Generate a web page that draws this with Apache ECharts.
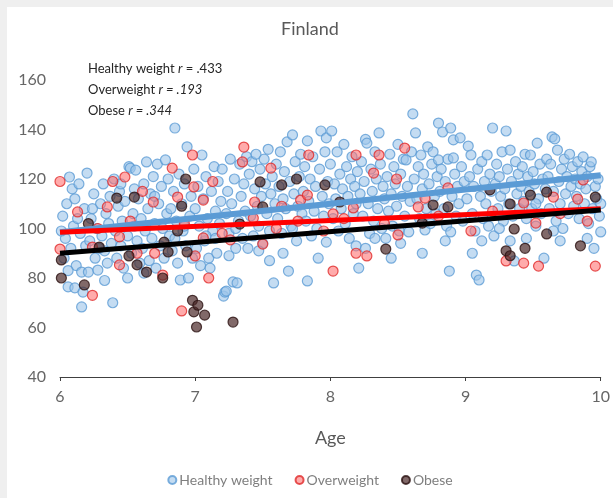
<!DOCTYPE html>
<html>
<head>
<meta charset="utf-8">
<script src="https://cdn.jsdelivr.net/npm/echarts@6/dist/echarts.min.js"></script>
<style>
  html, body { margin: 0; padding: 0; background: #efefef; }
  #chart { position: absolute; left: 7px; top: 7px; width: 606px; height: 491px; background: #fff; }
</style>
</head>
<body>
<div id="chart"></div>
<script>
// Age vs weight, Finland
var healthyWeight = [
  [6.02,105],[6.04,96],[6.06,76.4],[6.07,120.8],[6.09,116],[6.11,76],[6.03,88],[6.05,110],[6.08,92],[6.1,101],[6.12,85],[6.14,118],[6.15,98],[6.16,68.3],[6.16,82.4],[6.17,74.3],[6.18,108],[6.19,93],[6.13,104],[6.01,99],[6.11,112],[6.06,83],
  [6.2,122.4],[6.21,82.4],[6.22,95],[6.23,104],[6.25,114],[6.26,88],[6.27,100],[6.28,83.2],[6.3,110],[6.31,97],[6.32,118],[6.33,91],[6.34,106],[6.35,86],[6.36,102],[6.37,113],[6.38,94],[6.39,70],[6.24,108],[6.29,92],[6.33,79],
  [6.4,120],[6.41,99],[6.42,88],[6.43,109],[6.44,115],[6.45,93],[6.46,103],[6.47,84],[6.48,111],[6.5,97],[6.51,125],[6.52,124.4],[6.53,90],[6.54,106],[6.55,101],[6.56,123.6],[6.57,95],[6.58,112],[6.59,86],[6.45,118],[6.5,80],[6.55,116],
  [6.6,104],[6.61,92],[6.62,118],[6.63,99],[6.64,126.9],[6.65,108],[6.66,87],[6.67,114],[6.68,96],[6.69,121],[6.7,102],[6.71,84],[6.72,126],[6.73,110],[6.74,93],[6.75,117],[6.76,100],[6.77,88],[6.78,127.7],[6.79,106],[6.62,82],[6.7,113],
  [6.8,120],[6.81,97],[6.82,108],[6.83,91],[6.84,115],[6.85,140.6],[6.86,103],[6.87,86],[6.88,122],[6.89,79.2],[6.9,110],[6.91,99],[6.92,118],[6.93,93],[6.94,133],[6.95,80],[6.96,105],[6.97,113],[6.98,88],[6.99,124],[6.85,96],[6.92,101],
  [7.0,108],[7.01,92],[7.02,117],[7.03,101],[7.04,85],[7.05,129.7],[7.06,112],[7.07,95],[7.08,121],[7.09,104],[7.1,88],[7.11,84],[7.12,115],[7.13,99],[7.14,125],[7.15,107],[7.16,90],[7.17,119],[7.18,102],[7.19,111],[7.08,97],[7.15,96],
  [7.2,124],[7.21,72.7],[7.22,74.3],[7.23,74.7],[7.23,106],[7.24,115],[7.25,98],[7.26,128],[7.27,110],[7.28,78.4],[7.29,120],[7.3,92],[7.31,78],[7.32,103],[7.33,126],[7.34,113],[7.35,96],[7.36,118],[7.37,107],[7.38,129],[7.39,92],[7.3,100],[7.25,89],
  [7.4,122],[7.41,105],[7.42,127],[7.43,97],[7.44,116],[7.45,130],[7.46,109],[7.47,101],[7.48,124],[7.49,113],[7.5,94],[7.51,128],[7.52,118],[7.53,106],[7.54,132],[7.55,99],[7.56,114],[7.57,121],[7.58,78],[7.59,110],[7.47,91],[7.55,87],
  [7.6,126],[7.61,104],[7.62,117],[7.63,131],[7.64,98],[7.65,112],[7.66,123],[7.67,108],[7.68,135],[7.69,82.8],[7.7,119],[7.71,101],[7.72,137.8],[7.73,114],[7.74,127],[7.75,95],[7.76,109],[7.77,121],[7.78,130],[7.79,106],[7.65,90],[7.72,100],
  [7.8,115],[7.81,125],[7.82,103],[7.83,135.4],[7.83,78.8],[7.84,111],[7.85,120],[7.86,97],[7.87,129],[7.88,107],[7.89,117],[7.9,100],[7.91,88],[7.92,124],[7.93,139.4],[7.94,113],[7.95,105],[7.96,131],[7.97,136.6],[7.97,94.5],[7.98,119],[7.99,110],
  [8.0,126],[8.01,139.4],[8.02,104],[8.03,118],[8.04,112],[8.05,131],[8.06,99],[8.07,122],[8.08,108],[8.09,116],[8.1,134],[8.11,102],[8.12,125],[8.13,113],[8.14,96],[8.15,120],[8.16,129],[8.17,106],[8.18,117],[8.19,93],[8.19,110],[8.2,123],
  [8.21,84],[8.22,114],[8.23,127],[8.24,105],[8.25,119],[8.26,136],[8.27,134.5],[8.28,110],[8.29,98],[8.3,124],[8.31,115],[8.32,103],[8.33,131],[8.34,120],[8.35,108],[8.36,138.6],[8.37,126],[8.38,100],[8.39,117],[8.4,112],[8.26,92],[8.33,96],
  [8.41,96],[8.42,121],[8.43,107],[8.44,130],[8.45,114],[8.46,101],[8.47,125],[8.48,118],[8.49,109],[8.5,134],[8.51,99],[8.52,122],[8.53,113],[8.54,128],[8.55,105],[8.56,127.7],[8.57,117],[8.58,98.6],[8.59,111],[8.6,131],[8.45,88],[8.52,94],
  [8.61,146.3],[8.62,120],[8.63,138.6],[8.64,112],[8.65,125],[8.66,104],[8.67,129.7],[8.68,116],[8.69,122],[8.7,99.4],[8.71,108],[8.72,133],[8.73,118],[8.74,102],[8.75,126],[8.76,131],[8.77,113],[8.78,106],[8.79,121],[8.8,127.7],[8.8,142.6],[8.68,90],
  [8.81,115],[8.82,124],[8.83,139],[8.84,108],[8.85,119],[8.86,101],[8.87,128],[8.88,82.8],[8.89,140.6],[8.89,98.6],[8.9,113],[8.91,135.8],[8.91,128.5],[8.92,122],[8.93,105],[8.94,117],[8.95,110],[8.96,136.6],[8.97,125],[8.98,103],[8.99,119],[8.85,95],
  [9.01,112],[9.02,133.3],[9.03,121],[9.04,129.7],[9.05,106],[9.06,117],[9.07,99],[9.08,81.2],[9.09,124],[9.1,79.2],[9.11,113],[9.12,127],[9.13,104],[9.14,119],[9.15,110],[9.16,129.7],[9.17,101],[9.18,122],[9.19,115],[9.2,140.6],[9.12,95],[9.05,90],
  [9.21,97],[9.22,118],[9.23,126],[9.24,108],[9.25,121],[9.26,113],[9.27,131],[9.28,103],[9.29,116],[9.3,139.4],[9.31,124],[9.32,110],[9.33,131.7],[9.34,119],[9.35,105],[9.36,86.9],[9.37,127],[9.38,114],[9.39,122],[9.4,108],[9.25,100],[9.33,95],
  [9.41,117],[9.42,125],[9.43,111],[9.44,130],[9.45,104],[9.46,121],[9.47,115],[9.48,129.7],[9.49,108],[9.5,123],[9.51,118],[9.52,101],[9.53,134.5],[9.54,112],[9.55,126],[9.56,106],[9.57,120],[9.58,88],[9.59,116],[9.6,128],[9.45,96],[9.52,110],
  [9.61,121],[9.62,108],[9.63,126],[9.64,137],[9.65,115],[9.66,136.2],[9.67,103],[9.68,131.7],[9.69,119],[9.7,110],[9.71,124],[9.72,100],[9.73,128],[9.74,114],[9.75,121],[9.76,106],[9.77,130],[9.78,117],[9.79,125],[9.8,109],[9.7,95],[9.65,99],
  [9.81,120],[9.82,113],[9.83,127],[9.84,104],[9.85,118],[9.86,123],[9.87,128.9],[9.88,110],[9.89,116],[9.9,121],[9.91,102],[9.92,125],[9.93,126.9],[9.94,108],[9.95,92],[9.96,117],[9.97,112],[9.98,120],[9.99,105],[10.0,98.6],[10.0,110],[9.9,96]
];
var overweight = [
  [6.0,119],[6.0,91.7],[6.13,106.7],[6.24,92.5],[6.24,73],[6.28,100],[6.35,108.7],[6.39,119],[6.44,85.3],[6.44,96.6],[6.48,120.8],[6.52,103],[6.57,90],[6.61,115],
  [6.69,110.7],[6.7,90],[6.76,81.2],[6.83,124.4],[6.87,112.7],[6.9,66.7],[6.92,102],[6.98,129.7],[6.99,116.8],[7.0,88.9],[7.06,111.5],[7.06,96.2],[7.1,80],[7.13,119],
  [7.2,98],[7.26,95.4],[7.35,126.9],[7.36,132.9],[7.43,104.2],[7.44,110.7],[7.5,93.7],[7.56,124.4],[7.6,100],[7.64,109],[7.76,103],[7.78,111.5],[7.83,113.5],[7.84,129.7],
  [7.95,99],[8.02,105.9],[8.02,82.8],[8.1,104],[8.17,108.3],[8.19,129.7],[8.19,90],[8.27,88.9],[8.32,122.4],[8.36,129.7],[8.4,102],[8.49,120],[8.5,97.4],[8.55,132.5],
  [8.65,108.7],[8.7,112.3],[8.8,105],[8.87,116.4],[9.04,99],[9.2,107],[9.3,86.9],[9.43,86],[9.43,110.3],[9.52,102.2],[9.54,84.8],[9.65,112.7],[9.7,106],[9.83,111.9],
  [9.87,119.6],[9.9,103],[9.96,84.8]
];
var obese = [
  [6.01,87.3],[6.01,80],[6.18,77.2],[6.21,102],[6.29,92.5],[6.42,112.3],[6.51,88.9],[6.55,112.7],[6.57,85.3],[6.64,82.4],[6.76,80],[6.77,94.5],[6.8,90.5],[6.87,99],
  [6.9,109],[6.93,120],[6.94,90.5],[6.98,71],[6.99,66.3],[7.01,60.2],[7.02,69],[7.07,65],[7.28,62.2],[7.33,101.8],[7.48,118.8],[7.5,108.7],[7.64,117.6],[7.75,120],
  [7.96,117.6],[8.07,110.7],[8.41,91.7],[8.68,102.2],[8.76,109.5],[8.87,108.7],[9.18,115.6],[9.3,91],[9.33,89],[9.33,109.9],[9.36,99.8],[9.44,92],[9.48,113.5],
  [9.6,114.7],[9.6,97.8],[9.85,93],[9.96,112.7]
];
// linear fits
var healthyTrend = [[6, 98.5], [10, 121.5]];
var overweightTrend = [[6, 98.5], [10, 108]];
var obeseTrend = [[6, 90], [10, 107.5]];

var font = 'Lato, "Open Sans", sans-serif';
var myChart = echarts.init(document.getElementById('chart'));
var option = {
  backgroundColor: '#fff',
  textStyle: { fontFamily: font },
  title: {
    text: 'Finland',
    left: 'center',
    top: 8,
    textStyle: { color: '#595959', fontSize: 18, fontWeight: 'normal', fontFamily: font }
  },
  graphic: [{
    type: 'text',
    left: 81,
    top: 51,
    style: {
      text: 'Healthy weight {i|r} = .433\nOverweight {i|r = .193}\nObese {i|r = .344}',
      fill: '#262626',
      font: '13px ' + font,
      lineHeight: 21,
      rich: {
        i: { fontStyle: 'italic', fontSize: 13, fontFamily: font, fill: '#262626' }
      }
    }
  }],
  legend: {
    bottom: 6,
    left: 'center',
    itemWidth: 8,
    itemHeight: 8,
    itemGap: 22,
    textStyle: { color: '#7f7f7f', fontSize: 14, padding: [0, 0, 0, -2], fontFamily: font },
    data: ['Healthy weight', 'Overweight', 'Obese']
  },
  grid: { left: 53, right: 12, top: 73, bottom: 121 },
  xAxis: {
    type: 'value',
    min: 6, max: 10, interval: 1,
    name: 'Age',
    nameLocation: 'middle',
    nameGap: 52,
    nameTextStyle: { color: '#595959', fontSize: 18, fontFamily: font },
    axisLine: { lineStyle: { color: '#404040', width: 1 } },
    axisTick: { show: true, length: 4, lineStyle: { color: '#404040' } },
    axisLabel: { color: '#666666', fontSize: 16, margin: 12, fontFamily: font },
    splitLine: { show: false }
  },
  yAxis: {
    type: 'value',
    min: 40, max: 160, interval: 20,
    axisLine: { show: false },
    axisTick: { show: false },
    axisLabel: { color: '#666666', fontSize: 16, margin: 14, fontFamily: font },
    splitLine: { show: false }
  },
  series: [
    {
      name: 'Healthy weight',
      type: 'scatter',
      symbolSize: 10,
      data: healthyWeight,
      itemStyle: { color: 'rgba(157,197,234,0.75)', borderColor: '#5b9bd5', borderWidth: 1.2 }
    },
    {
      name: 'Overweight',
      type: 'scatter',
      symbolSize: 10,
      data: overweight,
      itemStyle: { color: 'rgba(255,105,105,0.7)', borderColor: '#e02a2a', borderWidth: 1.2 }
    },
    {
      name: 'Obese',
      type: 'scatter',
      symbolSize: 10,
      data: obese,
      itemStyle: { color: 'rgba(70,35,35,0.85)', borderColor: '#2a1212', borderWidth: 1.2 }
    },
    {
      type: 'line',
      data: healthyTrend,
      symbol: 'none',
      silent: true,
      lineStyle: { color: '#5b9bd5', width: 6 },
      z: 5
    },
    {
      type: 'line',
      data: overweightTrend,
      symbol: 'none',
      silent: true,
      lineStyle: { color: '#ff0000', width: 5 },
      z: 6
    },
    {
      type: 'line',
      data: obeseTrend,
      symbol: 'none',
      silent: true,
      lineStyle: { color: '#000000', width: 5 },
      z: 7
    }
  ]
};
myChart.setOption(option);
</script>
</body>
</html>
